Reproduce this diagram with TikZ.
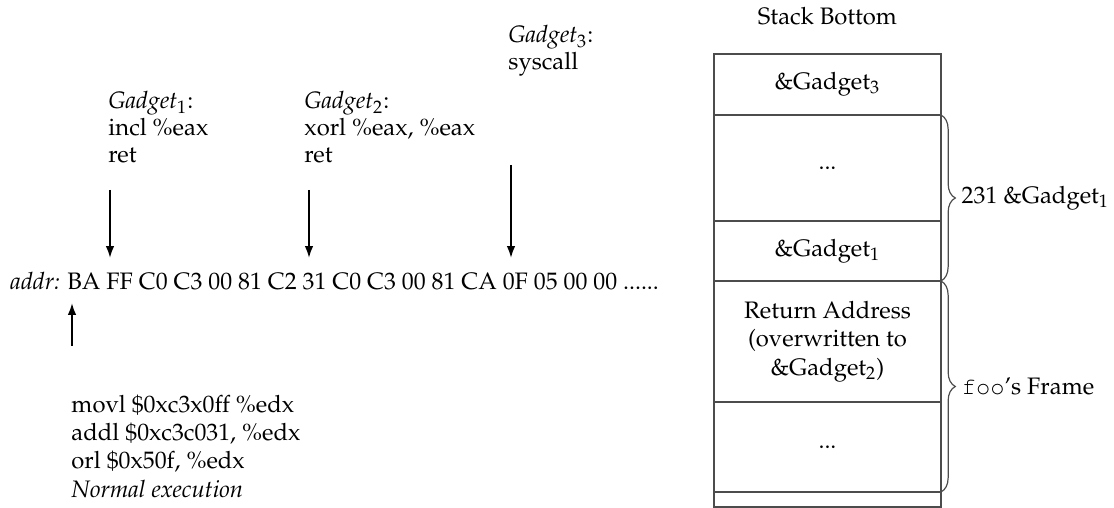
\documentclass[tikz,border=0pt]{standalone}
\usepackage[T1]{fontenc}
\usepackage{mathpazo}
\usepackage{courier}
\usetikzlibrary{arrows.meta,decorations.pathreplacing}
\begin{document}
\begin{tikzpicture}[x=0.42pt,y=-0.42pt,
  txt/.style={anchor=base west,inner sep=0pt,font=\fontsize{10}{12}\selectfont},
  arr/.style={line width=0.8pt,-{Latex[length=5pt,width=3.6pt]}},
  cell/.style={draw=black!70,line width=0.5pt,rectangle,inner sep=0pt,outer sep=0pt,
    minimum width=95.34pt,align=center,font=\fontsize{10}{12}\selectfont},
  bracestyle/.style={draw=black!70,line width=0.5pt,decorate,decoration={brace,amplitude=6pt}},
  lab/.style={anchor=west,inner sep=0pt,font=\fontsize{10}{12}\selectfont}]
\useasboundingbox (0,0) rectangle (1114,508);

% gadget texts
\node[txt] (g3a) at (508,43) {\textit{Gadget}$_3$:};
\node[txt] (g3b) at (508,70) {syscall};
\node[txt] (g1a) at (108,109) {\textit{Gadget}$_1$:};
\node[txt] (g1b) at (108,136) {incl \%eax};
\node[txt] (g1c) at (108,163) {ret};
\node[txt] (g2a) at (304,109) {\textit{Gadget}$_2$:};
\node[txt] (g2b) at (304,136) {xorl \%eax, \%eax};
\node[txt] (g2c) at (304,163) {ret};

% byte line
\node[txt] (addr) at (10,290) {\textit{addr:} BA FF C0 C3 00 81 C2 31 C0 C3 00 81 CA 0F 05 00 00 ......};

% arrows
\coordinate (a1s) at (110,190); \coordinate (a1e) at (110,258);
\coordinate (a2s) at (309,190); \coordinate (a2e) at (309,258);
\coordinate (a3s) at (511,165); \coordinate (a3e) at (511,258);
\coordinate (a0s) at (72,346); \coordinate (a0e) at (72,303);
\draw[arr] (a1s) -- (a1e);
\draw[arr] (a2s) -- (a2e);
\draw[arr] (a3s) -- (a3e);
\draw[arr] (a0s) -- (a0e);

% normal execution
\node[txt] (n1) at (71,412) {movl \$0xc3x0ff \%edx};
\node[txt] (n2) at (71,440) {addl \$0xc3c031, \%edx};
\node[txt] (n3) at (71,468) {orl \$0x50f, \%edx};
\node[txt] (n4) at (71,497) {\textit{Normal execution}};

% stack
\node[txt,anchor=base] (sb) at (827.5,25) {Stack Bottom};
\node[cell,minimum height=25.62pt] (c1) at (827.5,84.5) {\&Gadget$_3$};
\node[cell,minimum height=44.52pt] (c2) at (827.5,168) {...};
\node[cell,minimum height=25.2pt] (c3) at (827.5,251) {\&Gadget$_1$};
\node[cell,minimum height=50.82pt] (c4) at (827.5,341.5) {Return Address\\(overwritten to\\\&Gadget$_2$)};
\node[cell,minimum height=37.8pt] (c5) at (827.5,447) {...};
\node[cell,minimum height=6.3pt] (c6) at (827.5,499.5) {};

\draw[bracestyle] (c2.north east) -- (c3.south east) coordinate[midway,xshift=8.5pt] (b1);
\draw[bracestyle] (c4.north east) -- (c5.south east) coordinate[midway,xshift=8.5pt] (b2);
\node[lab] (l1) at (b1) {231 \&Gadget$_1$};
\node[lab] (l2) at (b2) {\texttt{foo}'s Frame};
\end{tikzpicture}
\end{document}
